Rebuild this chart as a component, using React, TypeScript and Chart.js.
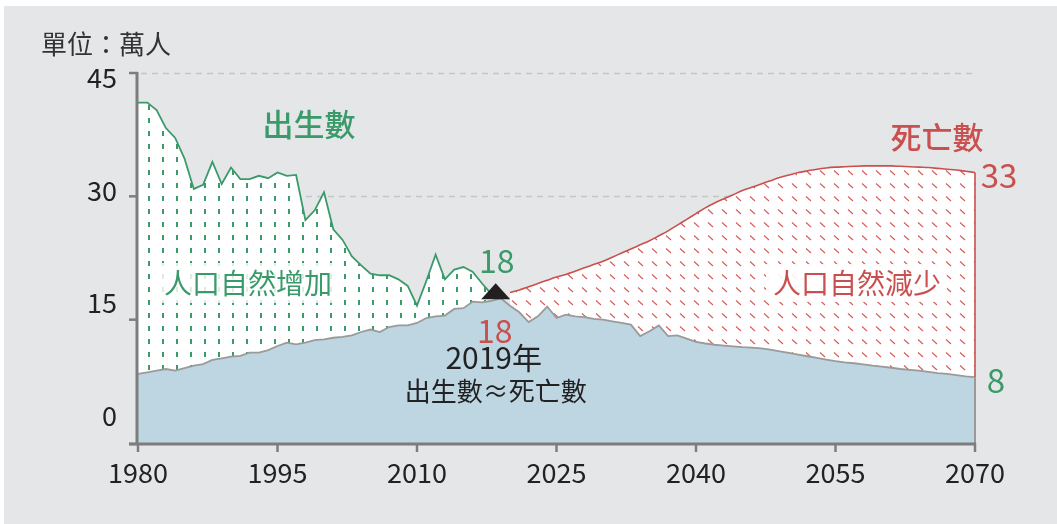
import React, { useEffect, useRef } from "react";
import { Chart, registerables } from "chart.js";
Chart.register(...registerables);

// ---- Data (萬人) ----
const HIST_START = 1980;
const PROJ_START = 2020;
const CROSS_YEAR = 2019;

// 出生數 1980–2019
const birthsHist = [
  41.4, 41.4, 40.5, 38.3, 37.1, 34.6, 30.9, 31.4, 34.2, 31.5,
  33.5, 32.1, 32.1, 32.5, 32.2, 32.9, 32.5, 32.6, 27.1, 28.3,
  30.5, 26.0, 24.7, 22.7, 21.6, 20.6, 20.4, 20.4, 19.9, 19.1,
  16.7, 19.7, 22.9, 19.9, 21.1, 21.4, 20.8, 19.4, 18.1, 17.7,
];
// 死亡數 1980–2019
const deathsHist = [
  8.4, 8.6, 8.8, 9.0, 8.8, 9.1, 9.4, 9.6, 10.1, 10.3,
  10.5, 10.6, 11.0, 11.0, 11.3, 11.8, 12.2, 12.0, 12.2, 12.5,
  12.6, 12.8, 12.9, 13.1, 13.5, 13.8, 13.5, 14.1, 14.3, 14.3,
  14.6, 15.2, 15.4, 15.5, 16.3, 16.4, 17.2, 17.1, 17.3, 17.6,
];
// 出生數推估 2020–2070
const birthsProj = [
  16.7, 15.9, 14.7, 15.4, 16.6, 15.2, 15.6, 15.4, 15.3, 15.1,
  15.0, 14.8, 14.6, 14.4, 13.0, 13.6, 14.3, 13.0, 13.1, 12.7,
  12.3, 12.1, 11.95, 11.85, 11.75, 11.65, 11.6, 11.5, 11.35, 11.15,
  10.95, 10.75, 10.55, 10.35, 10.15, 9.95, 9.8, 9.7, 9.55, 9.4,
  9.3, 9.15, 9.0, 8.9, 8.8, 8.65, 8.5, 8.4, 8.25, 8.1, 8.0,
];
// 死亡數推估 2020–2070
const deathsProj = [
  18.3, 18.6, 19.0, 19.4, 19.8, 20.2, 20.5, 20.9, 21.3, 21.7,
  22.1, 22.6, 23.1, 23.6, 24.1, 24.6, 25.2, 25.8, 26.5, 27.2,
  27.9, 28.6, 29.2, 29.7, 30.2, 30.7, 31.1, 31.5, 31.9, 32.3,
  32.6, 32.9, 33.1, 33.3, 33.45, 33.55, 33.6, 33.65, 33.7, 33.7,
  33.7, 33.7, 33.65, 33.6, 33.55, 33.5, 33.4, 33.3, 33.2, 33.05, 32.9,
];

const xTicks = [1980, 1995, 2010, 2025, 2040, 2055, 2070];
const yTicks = [0, 15, 30, 45];

const GREEN = "#3a9a6a";
const RED = "#c9504e";
const BLUE_FILL = "#bdd6e1";
const GREY_LINE = "#9a9a9a";
const AXIS = "#7d7d7d";
const BG = "#e5e6e8";
const DARK = "#222222";
const CJK = '"Noto Sans CJK TC", "Noto Sans", sans-serif';

function greenPattern(): CanvasPattern | string {
  const c = document.createElement("canvas");
  c.width = 14;
  c.height = 13;
  const g = c.getContext("2d");
  if (!g) return "#fff";
  g.fillStyle = "#ffffff";
  g.fillRect(0, 0, 14, 13);
  g.fillStyle = GREEN;
  g.fillRect(8, 1, 2, 5);
  return g.createPattern(c, "repeat") || "#fff";
}

function redPattern(): CanvasPattern | string {
  const c = document.createElement("canvas");
  c.width = 14;
  c.height = 13;
  const g = c.getContext("2d");
  if (!g) return "#fff";
  g.fillStyle = "#ffffff";
  g.fillRect(0, 0, 14, 13);
  g.strokeStyle = "#d45c5a";
  g.lineWidth = 1.1;
  g.beginPath();
  g.moveTo(8, 1.5);
  g.lineTo(13, 6);
  g.stroke();
  return g.createPattern(c, "repeat") || "#fff";
}

function txt(
  ctx: CanvasRenderingContext2D,
  s: string,
  x: number,
  y: number,
  font: string,
  color: string,
  align: CanvasTextAlign = "center"
) {
  ctx.font = font;
  ctx.fillStyle = color;
  ctx.textAlign = align;
  ctx.textBaseline = "middle";
  ctx.fillText(s, x, y);
}

const decor = {
  id: "decor",
  beforeDraw(chart: any) {
    const { ctx, width, height } = chart;
    ctx.save();
    ctx.fillStyle = "#ffffff";
    ctx.fillRect(0, 0, width, height);
    ctx.fillStyle = BG;
    ctx.fillRect(4, 6, width - 4, height - 6);
    ctx.restore();
  },
  beforeDatasetsDraw(chart: any) {
    const { ctx, chartArea } = chart;
    const ys = chart.scales.y;
    ctx.save();
    ctx.strokeStyle = "#c4c5c7";
    ctx.lineWidth = 1.5;
    ctx.setLineDash([6, 5]);
    yTicks.forEach((v) => {
      if (v === 0) return;
      const y = Math.round(ys.getPixelForValue(v)) + 0.5;
      ctx.beginPath();
      ctx.moveTo(chartArea.left + 3, y);
      ctx.lineTo(chartArea.right, y);
      ctx.stroke();
    });
    ctx.restore();
  },
  afterDatasetsDraw(chart: any) {
    const { ctx, chartArea } = chart;
    const xs = chart.scales.x;
    const ys = chart.scales.y;
    const lastYear = PROJ_START + birthsProj.length - 1;
    const xr = xs.getPixelForValue(lastYear);
    const yB = ys.getPixelForValue(birthsProj[birthsProj.length - 1]);
    const yD = ys.getPixelForValue(deathsProj[deathsProj.length - 1]);
    const y0 = ys.getPixelForValue(0);
    ctx.save();
    // right edges
    ctx.strokeStyle = RED;
    ctx.lineWidth = 1.6;
    ctx.beginPath();
    ctx.moveTo(xr, yD);
    ctx.lineTo(xr, yB);
    ctx.stroke();
    ctx.strokeStyle = GREY_LINE;
    ctx.lineWidth = 2;
    ctx.beginPath();
    ctx.moveTo(xr, yB);
    ctx.lineTo(xr, y0);
    ctx.stroke();

    // axes
    ctx.strokeStyle = AXIS;
    ctx.lineWidth = 3;
    ctx.beginPath();
    ctx.moveTo(chartArea.left - 1, ys.getPixelForValue(45) - 1);
    ctx.lineTo(chartArea.left - 1, y0 + 1);
    ctx.stroke();
    ctx.beginPath();
    ctx.moveTo(chartArea.left - 9, y0 + 1);
    ctx.lineTo(chartArea.right + 1, y0 + 1);
    ctx.stroke();
    ctx.lineWidth = 2.5;
    yTicks.forEach((v) => {
      const y = ys.getPixelForValue(v);
      ctx.beginPath();
      ctx.moveTo(chartArea.left - 9, v === 0 ? y + 1 : y);
      ctx.lineTo(chartArea.left, v === 0 ? y + 1 : y);
      ctx.stroke();
    });
    xTicks.forEach((v) => {
      const x = xs.getPixelForValue(v);
      ctx.beginPath();
      ctx.moveTo(x, y0);
      ctx.lineTo(x, y0 + 9);
      ctx.stroke();
    });

    // tick labels
    xTicks.forEach((v) => {
      txt(ctx, String(v), xs.getPixelForValue(v), y0 + 30, `27px ${CJK}`, DARK);
    });
    const yTop = ys.getPixelForValue(45);
    yTicks.forEach((v) => {
      const y = yTop + 5 + ((45 - v) / 15) * 112.5;
      txt(ctx, String(v), 117, y, `27px ${CJK}`, DARK, "right");
    });

    // unit
    txt(ctx, "單位：萬人", 41, 44, `26px ${CJK}`, "#333333", "left");

    // series titles
    txt(ctx, "出生數", 309, 124, `500 31px ${CJK}`, GREEN);
    txt(ctx, "死亡數", 937, 137, `500 31px ${CJK}`, RED);

    // end values
    txt(ctx, "33", 999, 175, `33px ${CJK}`, RED);
    txt(ctx, "8", 996, 380, `33px ${CJK}`, GREEN);

    // area labels with translucent boxes
    ctx.fillStyle = "rgba(255,255,255,0.82)";
    ctx.fillRect(158, 263, 180, 40);
    txt(ctx, "人口自然增加", 248, 283, `28px ${CJK}`, GREEN);
    ctx.fillStyle = "rgba(255,255,255,0.9)";
    ctx.fillRect(766, 264, 181, 38);
    txt(ctx, "人口自然減少", 857, 283, `28px ${CJK}`, RED);

    // 2019 crossing marker
    const cx = xs.getPixelForValue(CROSS_YEAR) - 5;
    const cy = ys.getPixelForValue(deathsHist[deathsHist.length - 1]) + 1;
    ctx.fillStyle = "#231f20";
    ctx.beginPath();
    ctx.moveTo(cx, cy - 16);
    ctx.lineTo(cx + 14.5, cy);
    ctx.lineTo(cx - 14.5, cy);
    ctx.closePath();
    ctx.fill();
    txt(ctx, "18", cx + 1, 261, `32px ${CJK}`, GREEN);
    txt(ctx, "18", cx - 1, 331, `32px ${CJK}`, RED);
    txt(ctx, "2019年", cx - 2, 358, `30px ${CJK}`, DARK);
    txt(ctx, "出生數≈死亡數", cx, 391, `26px ${CJK}`, DARK);
    ctx.restore();
  },
};

export default function App() {
  const ref = useRef<HTMLCanvasElement | null>(null);
  useEffect(() => {
    const canvas = ref.current;
    if (!canvas) return;
    const births = [...birthsHist, ...birthsProj];
    const deaths = [...deathsHist, ...deathsProj];
    const years = births.map((_, i) => HIST_START + i);
    const lower = years.map((yr, i) => ({ x: yr, y: Math.min(births[i], deaths[i]) }));
    const birthLine = birthsHist.map((v, i) => ({ x: HIST_START + i, y: v }));
    const deathLine = deathsProj.map((v, i) => ({ x: PROJ_START + i, y: v }));

    const chart = new Chart(canvas, {
      type: "line",
      data: {
        datasets: [
          {
            label: "lower",
            data: lower,
            borderColor: GREY_LINE,
            borderWidth: 1.8,
            backgroundColor: BLUE_FILL,
            fill: "origin",
            pointRadius: 0,
            tension: 0,
          },
          {
            label: "出生數",
            data: birthLine,
            borderColor: GREEN,
            borderWidth: 1.8,
            backgroundColor: greenPattern() as any,
            fill: { target: 0 },
            pointRadius: 0,
            tension: 0,
          },
          {
            label: "死亡數",
            data: deathLine,
            borderColor: RED,
            borderWidth: 1.6,
            backgroundColor: redPattern() as any,
            fill: { target: 0 },
            pointRadius: 0,
            tension: 0.3,
          },
        ],
      },
      options: {
        responsive: false,
        animation: false,
        devicePixelRatio: 1,
        layout: { padding: { left: 138, right: 82, top: 73, bottom: 81 } },
        plugins: { legend: { display: false }, tooltip: { enabled: false } },
        scales: {
          x: { type: "linear", min: 1980, max: 2070, display: false },
          y: { type: "linear", min: 0, max: 45, display: false },
        },
      },
      plugins: [decor],
    });
    return () => chart.destroy();
  }, []);

  return (
    <div style={{ position: "fixed", left: 0, top: 0, width: 1057, height: 524 }}>
      <canvas ref={ref} width={1057} height={524} style={{ width: 1057, height: 524 }} />
    </div>
  );
}
